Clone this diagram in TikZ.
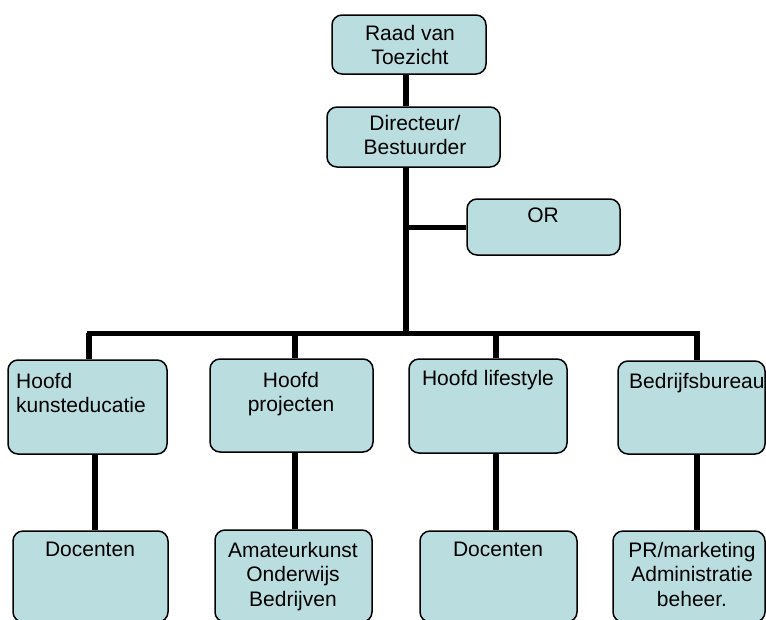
\documentclass[tikz,border=0pt]{standalone}
\usepackage{fontspec}
\setmainfont{Liberation Sans}
\definecolor{boxfill}{RGB}{186,222,224}
\begin{document}
\begin{tikzpicture}[x=1pt,y=-1pt,
  box/.style={draw=black,line width=1.5pt,fill=boxfill,rounded corners=10pt,inner sep=0pt},
  lbl/.style={inner sep=0pt,anchor=north,align=center,font=\fontsize{21}{24.5}\selectfont},
  conn/.style={line width=6pt,draw=black}]
\clip (0,0) rectangle (766,619);
% boxes (positions)
\node[box,minimum width=154pt,minimum height=59pt] (rvt) at (409,44.5) {};
\node[box,minimum width=173pt,minimum height=60pt] (dir) at (413.5,137) {};
\node[box,minimum width=153pt,minimum height=56pt] (or) at (543.5,227) {};
\node[box,minimum width=159pt,minimum height=94pt] (h1) at (87.5,407) {};
\node[box,minimum width=163pt,minimum height=93pt] (h2) at (291.5,405.5) {};
\node[box,minimum width=158pt,minimum height=94pt] (h3) at (488,406) {};
\node[box,minimum width=147pt,minimum height=93pt] (h4) at (691.5,407.5) {};
\node[box,minimum width=155pt,minimum height=91pt] (d1) at (90.5,576.5) {};
\node[box,minimum width=157pt,minimum height=92pt] (d2) at (293.5,576) {};
\node[box,minimum width=157pt,minimum height=91pt] (d3) at (498.5,576.5) {};
\node[box,minimum width=152pt,minimum height=91pt] (d4) at (689,576.5) {};
% connectors
\begin{scope}[on background layer/.style={}]
\coordinate (trunk) at (405.5,333);
\coordinate (barL) at (89,333);
\coordinate (barR) at (697,333);
\coordinate (a2) at (295,333);
\coordinate (a3) at (496,333);
\coordinate (l1) at (95,0);
\coordinate (l2) at (295,0);
\coordinate (l3) at (496,0);
\coordinate (l4) at (697,0);
\draw[conn] (trunk |- rvt.south) -- (trunk |- dir.north);
\draw[conn] (trunk |- dir.south) -- (trunk);
\draw[conn,line width=5pt] (trunk |- or.west) -- (or.west);
\draw[conn,line width=5pt,line cap=rect] (barL) -- (barR);
\draw[conn] (barL) -- (barL |- h1.north);
\draw[conn] (a2) -- (a2 |- h2.north);
\draw[conn] (a3) -- (a3 |- h3.north);
\draw[conn] (barR) -- (barR |- h4.north);
\draw[conn] (l1 |- h1.south) -- (l1 |- d1.north);
\draw[conn] (l2 |- h2.south) -- (l2 |- d2.north);
\draw[conn] (l3 |- h3.south) -- (l3 |- d3.north);
\draw[conn] (l4 |- h4.south) -- (l4 |- d4.north);
\end{scope}
% labels
\node[lbl] (trvt) at (410,25) {Raad van\\Toezicht};
\node[lbl] (tdir) at (415,115) {Directeur/\\Bestuurder};
\node[lbl] (tor) at (543,208) {OR};
\node[lbl,anchor=north west,align=left] (th1) at (16,373) {Hoofd\\kunsteducatie};
\node[lbl] (th2) at (291,372) {Hoofd\\projecten};
\node[lbl] (th3) at (488,370) {Hoofd lifestyle};
\node[lbl,anchor=north west,align=left] (th4) at (629,373) {Bedrijfsbureau};
\node[lbl] (td1) at (90,542) {Docenten};
\node[lbl] (td2) at (293,542) {Amateurkunst\\Onderwijs\\Bedrijven};
\node[lbl] (td3) at (498,542) {Docenten};
\node[lbl] (td4) at (692,542) {PR/marketing\\Administratie\\beheer.};
\end{tikzpicture}
\end{document}
